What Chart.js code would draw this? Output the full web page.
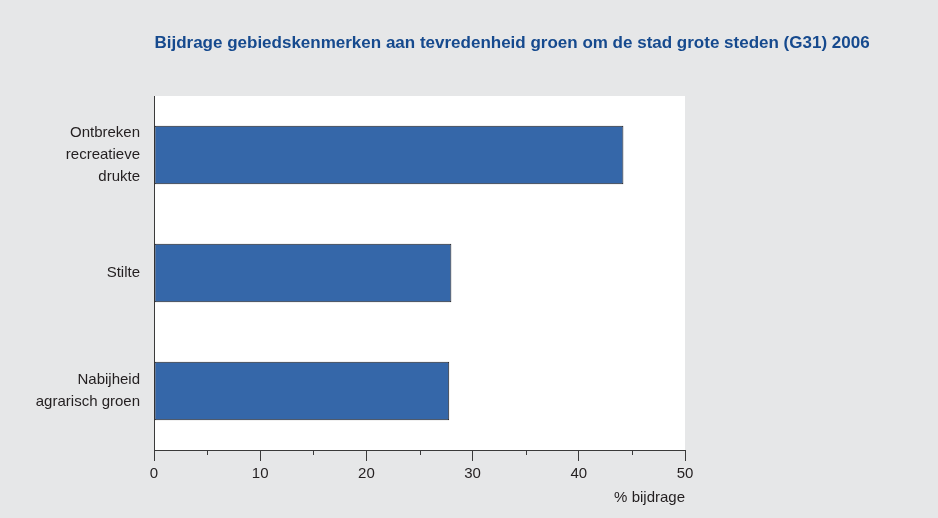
<!DOCTYPE html>
<html>
<head>
<meta charset="utf-8">
<script src="https://cdn.jsdelivr.net/npm/chart.js@4"></script>
<style>
  html, body { margin: 0; padding: 0; background: #e6e7e8; }
  #wrap { width: 938px; height: 518px; }
</style>
</head>
<body>
<div id="wrap"><canvas id="groenChart" width="938" height="518"></canvas></div>
<script>
const chartTitle = 'Bijdrage gebiedskenmerken aan tevredenheid groen om de stad grote steden (G31) 2006';
const categories = [
  ['Ontbreken', 'recreatieve', 'drukte'],
  'Stilte',
  ['Nabijheid', 'agrarisch groen']
];
const bijdrage = [44.2, 28.0, 27.8];
const xMajorTicks = [0, 10, 20, 30, 40, 50];
const xMinorTicks = [5, 15, 25, 35, 45];

const fontFamily = '"Liberation Sans", Arial, sans-serif';
const textColor = '#231f20';
const lineColor = '#3a3a3a';

// gray canvas, white plot area, title and the short minor ticks
const plotBackground = {
  id: 'plotBackground',
  beforeDraw(chart) {
    const { ctx, chartArea } = chart;
    ctx.save();
    ctx.fillStyle = '#e6e7e8';
    ctx.fillRect(0, 0, chart.width, chart.height);
    ctx.fillStyle = '#ffffff';
    ctx.fillRect(chartArea.left, chartArea.top, chartArea.right - chartArea.left, chartArea.bottom - chartArea.top);
    ctx.restore();
  },
  afterDraw(chart) {
    const { ctx, chartArea } = chart;
    const xScale = chart.scales.x;
    ctx.save();
    ctx.strokeStyle = lineColor;
    ctx.lineWidth = 1;
    xMinorTicks.forEach(v => {
      const px = Math.round(xScale.getPixelForValue(v)) + 0.5;
      ctx.beginPath();
      ctx.moveTo(px, chartArea.bottom);
      ctx.lineTo(px, chartArea.bottom + 5);
      ctx.stroke();
    });
    ctx.font = 'bold 17px ' + fontFamily;
    ctx.fillStyle = '#164a8e';
    ctx.textAlign = 'center';
    ctx.textBaseline = 'middle';
    ctx.fillText(chartTitle, 512, 43);
    ctx.restore();
  }
};

const ctx = document.getElementById('groenChart').getContext('2d');
const groenChart = new Chart(ctx, {
  type: 'bar',
  data: {
    labels: categories,
    datasets: [{
      label: '% bijdrage',
      data: bijdrage,
      backgroundColor: '#3567a9',
      borderColor: '#231f20',
      borderWidth: 1,
      borderSkipped: false,
      barPercentage: 0.495,
      categoryPercentage: 1
    }]
  },
  plugins: [plotBackground],
  options: {
    indexAxis: 'y',
    responsive: false,
    animation: false,
    devicePixelRatio: 1,
    layout: { padding: { top: 96, right: 253, left: 0, bottom: 0 } },
    plugins: {
      legend: { display: false },
      tooltip: { enabled: false }
    },
    scales: {
      x: {
        min: 0,
        max: 50,
        afterBuildTicks: scale => { scale.ticks = xMajorTicks.map(v => ({ value: v })); },
        afterFit: scale => { scale.height = 68; },
        ticks: {
          color: textColor,
          font: { family: fontFamily, size: 15 },
          padding: 4,
          maxRotation: 0,
          autoSkip: false
        },
        grid: {
          drawOnChartArea: false,
          drawTicks: true,
          tickLength: 11,
          tickColor: lineColor,
          color: lineColor
        },
        border: { display: true, color: lineColor, width: 1 },
        title: {
          display: true,
          text: '% bijdrage',
          align: 'end',
          color: textColor,
          font: { family: fontFamily, size: 15 },
          padding: { top: 0, bottom: 11 }
        }
      },
      y: {
        afterFit: scale => { scale.width = 154; },
        ticks: {
          color: textColor,
          font: { family: fontFamily, size: 15, lineHeight: 1.47 },
          padding: 14
        },
        grid: { drawOnChartArea: false, drawTicks: false },
        border: { display: true, color: lineColor, width: 1 }
      }
    }
  }
});
</script>
</body>
</html>
